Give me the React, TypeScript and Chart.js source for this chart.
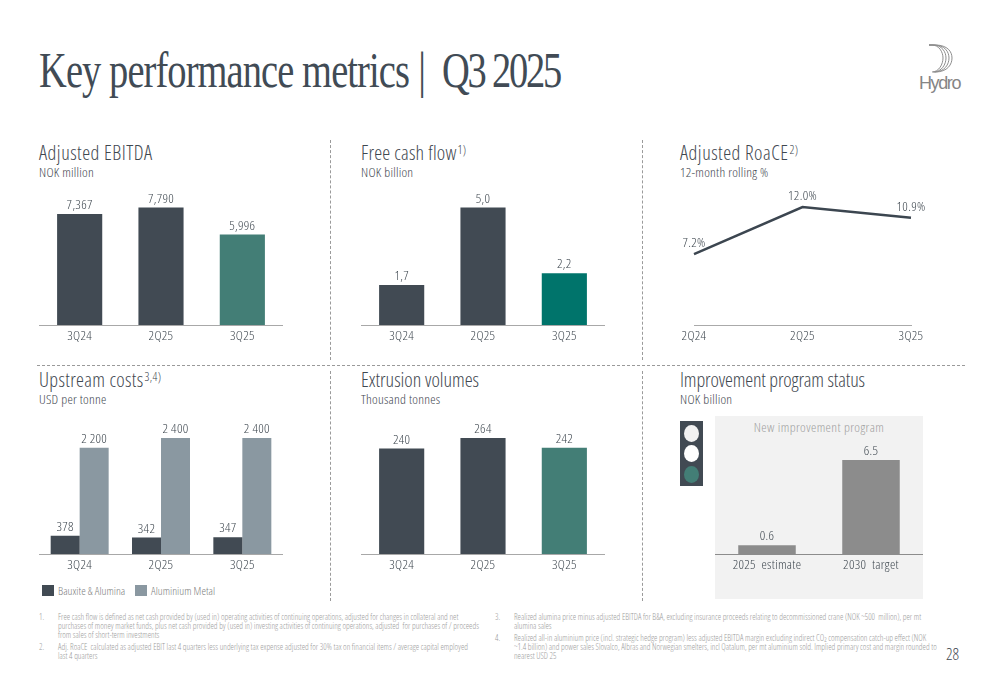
import React, { useEffect, useRef } from "react";
import { Chart, registerables } from "chart.js";
Chart.register(...registerables);

const DARK = "#414a53";
const TEAL = "#437e76";
const TEAL2 = "#00746b";
const SLATE = "#8a98a1";
const GREY = "#8c8c8c";
const TXT = "#3f4850";
const FONT = "'Open Sans',sans-serif";
const WEIGHT = "300 condensed";

const quarters = ["3Q24", "2Q25", "3Q25"];
const ebitda = [7367, 7790, 5996];
const fcf = [1.7, 5.0, 2.2];
const roaceQuarters = ["2Q24", "2Q25", "3Q25"];
const roace = [7.2, 12.0, 10.9];
const bauxite = [378, 342, 347];
const aluminium = [2200, 2400, 2400];
const extrusion = [240, 264, 242];
const programCats = ["2025  estimate", "2030  target"];
const program = [0.6, 6.5];

const footLeft = [
  [39, 58, 617, "1.", "Free cash flow is defined as net cash provided by (used in) operating activities of continuing operations, adjusted for changes in collateral and net"],
  [39, 58, 626, "", "purchases of money market funds, plus net cash provided by (used in) investing activities of continuing operations, adjusted  for purchases of / proceeds"],
  [39, 58, 635, "", "from sales of short-term investments"],
  [39, 58, 647, "2.", "Adj. RoaCE  calculated as adjusted EBIT last 4 quarters less underlying tax expense adjusted for 30% tax on financial items / average capital employed"],
  [39, 58, 656, "", "last 4 quarters"],
  [495, 514, 617, "3.", "Realized alumina price minus adjusted EBITDA for B&A, excluding insurance proceeds relating to decommissioned crane (NOK ~500  million), per mt"],
  [495, 514, 626, "", "alumina sales"],
  [495, 514, 638, "4.", "Realized all-in aluminium price (incl. strategic hedge program) less adjusted EBITDA margin excluding indirect CO\u2082 compensation catch-up effect (NOK"],
  [495, 514, 647, "", "~1.4 billion) and power sales Slovalco, Albras and Norwegian smelters, incl Qatalum, per mt aluminium sold. Implied primary cost and margin rounded to"],
  [495, 514, 656, "", "nearest USD 25"],
] as const;

const labelPlugin = (fmt: (v: number) => string, gap = 2) => ({
  id: "valueLabels",
  beforeDraw(chart: any) {
    chart.ctx.letterSpacing = "0.3px";
  },
  afterDatasetsDraw(chart: any) {
    const { ctx } = chart;
    ctx.save();
    ctx.fillStyle = TXT;
    ctx.font = `${WEIGHT} 13.5px ${FONT}`;
    ctx.textAlign = "center";
    ctx.textBaseline = "bottom";
    chart.data.datasets.forEach((ds: any, i: number) => {
      chart.getDatasetMeta(i).data.forEach((el: any, j: number) => {
        ctx.fillText(fmt(ds.data[j]), el.x, el.y - gap);
      });
    });
    ctx.restore();
  },
});

function Panel(p: { left: number; top: number; width: number; height: number; config: () => any }) {
  const ref = useRef<HTMLCanvasElement>(null);
  useEffect(() => {
    const chart = new Chart(ref.current!, p.config());
    return () => chart.destroy();
  }, []);
  return <canvas ref={ref} width={p.width} height={p.height} style={{ position: "absolute", left: p.left, top: p.top, width: p.width, height: p.height }} />;
}

const baseOptions = (yMax: number, padding: any = 0, axisColor = "#a8a8a8") => ({
  responsive: false,
  animation: false as const,
  devicePixelRatio: 1,
  layout: { padding },
  plugins: { legend: { display: false }, tooltip: { enabled: false } },
  scales: {
    y: { display: false, min: 0, max: yMax },
    x: {
      afterFit: (s: any) => { s.height = 25; },
      grid: { display: false, drawTicks: false },
      border: { display: true, color: axisColor, width: 1 },
      ticks: { color: TXT, font: { family: FONT, size: 13.5, weight: WEIGHT }, padding: 3, maxRotation: 0 },
    },
  },
});

const barCfg = (labels: string[], data: number[], colors: string[], yMax: number, fmt: (v: number) => string) => () => ({
  type: "bar",
  data: { labels, datasets: [{ data, backgroundColor: colors, barPercentage: 1, categoryPercentage: 0.555 }] },
  options: baseOptions(yMax),
  plugins: [labelPlugin(fmt)],
});

const thousands = (v: number) => v.toLocaleString("en-US");
const decComma = (v: number) => v.toFixed(1).replace(".", ",");
const spaced = (v: number) => (v >= 1000 ? thousands(v).replace(",", " ") : String(v));

function T(p: { x: number; y: number; s: number; c?: string; ls?: number; children: any; center?: boolean }) {
  return (
    <div style={{
      position: "absolute", left: p.x, top: p.y, transform: p.center ? "translate(-50%,-50%)" : "translateY(-50%)",
      fontSize: p.s, color: p.c ?? TXT, fontWeight: 300, fontStretch: "75%", letterSpacing: p.ls ?? 0,
      fontFamily: FONT, whiteSpace: "pre", lineHeight: 1,
    }}>{p.children}</div>
  );
}

const Head = ({ x, y, title, sup, sub, ls = 0.2 }: { x: number; y: number; title: string; sup?: string; sub: string; ls?: number }) => (
  <>
    <T x={x} y={y} s={20} ls={ls}>{title}{sup ? <sup style={{ fontSize: 12, lineHeight: 0, verticalAlign: 6, marginLeft: 1 }}>{sup}</sup> : null}</T>
    <T x={x} y={y + 19.5} s={13.5} ls={0.25}>{sub}</T>
  </>
);

const Box = (s: React.CSSProperties) => <div style={{ position: "absolute", ...s }} />;

export default function App() {
  const vDash = "1px dashed #9a9a9a";
  return (
    <div style={{ position: "fixed", inset: 0, width: 1000, height: 685, background: "#fff", overflow: "hidden" }}>
      <div style={{
        position: "absolute", left: 39, top: 70, transformOrigin: "left center", transform: "translateY(-50%) scaleX(0.77)",
        fontFamily: "'Liberation Serif',serif", fontSize: 50, lineHeight: 1, letterSpacing: -1.2, color: "#414b55", whiteSpace: "pre",
      }}>Key performance metrics<span style={{ marginLeft: 12, marginRight: 22 }}>|</span><span style={{ letterSpacing: -2.9 }}>Q3 2025</span></div>

      <svg style={{ position: "absolute", left: 915, top: 40 }} width={50} height={56} viewBox="0 0 50 56">
        {[0, 1, 2, 3].map((i) => {
          const r = 28 + i * 3;
          return <path key={i} d={`M14 5 H${17 + i} C${r - 4} 5 ${r} 12 ${r} 18 C${r} 24 ${r - 4} 32 ${17 + i} 32`} fill="none" stroke="#8e8e8e" strokeWidth={1} />;
        })}
        <text x={4} y={49} fontFamily="'Liberation Sans',sans-serif" fontSize={18} fill="#858585" letterSpacing={-1.4}>Hydro</text>
      </svg>

      <Box left={330} top={140} height={220} borderLeft={vDash} />
      <Box left={642} top={140} height={220} borderLeft={vDash} />
      <Box left={330} top={371} height={230} borderLeft={vDash} />
      <Box left={642} top={371} height={230} borderLeft={vDash} />
      <Box left={37} top={365} width={928} borderTop={vDash} />

      <Head x={39} y={153} title="Adjusted EBITDA" sub="NOK million" ls={0.5} />
      <Head x={361} y={153} title="Free cash flow" sup="1)" sub="NOK billion" />
      <Head x={680} y={153} title="Adjusted RoaCE" sup="2)" sub="12-month rolling %" ls={0.5} />
      <Head x={39} y={380} title="Upstream costs" sup="3,4)" sub="USD per tonne" ls={0.35} />
      <Head x={361} y={380} title="Extrusion volumes" sub="Thousand tonnes" ls={0} />
      <Head x={680} y={380} title="Improvement program status" sub="NOK billion" ls={-0.15} />

      <Panel left={39} top={180} width={244} height={170} config={barCfg(quarters, ebitda, [DARK, DARK, TEAL], 145 / 0.01508, thousands)} />
      <Panel left={361} top={180} width={244} height={170} config={barCfg(quarters, fcf, [DARK, DARK, TEAL2], 145 / 23.5, decComma)} />
      <Panel left={670} top={180} width={270} height={170} config={() => ({
        type: "line",
        data: { labels: roaceQuarters, datasets: [{ data: roace, borderColor: "#3c4650", borderWidth: 2.5, pointRadius: 0, tension: 0 }] },
        options: (() => {
          const o: any = baseOptions(145 / 9.83, { left: 24, right: 29 }, "#aaaaaa");
          o.scales.x.offset = false;
          return o;
        })(),
        plugins: [labelPlugin((v) => v.toFixed(1) + "%", 4)],
      })} />

      <Panel left={39} top={409} width={244} height={170} config={() => ({
        type: "bar",
        data: {
          labels: quarters,
          datasets: [
            { label: "Bauxite & Alumina", data: bauxite, backgroundColor: DARK, barPercentage: 1, categoryPercentage: 0.713 },
            { label: "Aluminium Metal", data: aluminium, backgroundColor: SLATE, barPercentage: 1, categoryPercentage: 0.713 },
          ],
        },
        options: baseOptions(145 / 0.0483),
        plugins: [labelPlugin(spaced)],
      })} />
      <Box left={42} top={585} width={12} height={11} background={DARK} />
      <T x={58} y={590.5} s={11.5} c="#7f7f7f">Bauxite & Alumina</T>
      <Box left={135} top={585} width={12} height={11} background={SLATE} />
      <T x={151} y={590.5} s={11.5} c="#7f7f7f">Aluminium Metal</T>

      <Panel left={361} top={409} width={244} height={170} config={barCfg(quarters, extrusion, [DARK, DARK, TEAL], 145 / 0.4394, String)} />

      <Box left={715} top={416} width={208} height={183} background="#f2f2f2" />
      <T x={819} y={428} s={13.5} ls={0.4} c="#a0a0a0" center>New improvement program</T>
      <Panel left={715} top={409} width={208} height={170} config={() => ({
        type: "bar",
        data: { labels: programCats, datasets: [{ data: program, backgroundColor: GREY, barPercentage: 1, categoryPercentage: 0.553 }] },
        options: baseOptions(145 / 14.46, 0, "#8c8c8c"),
        plugins: [labelPlugin((v) => v.toFixed(1))],
      })} />

      <Box left={680} top={421} width={22.5} height={65} background={DARK} />
      {["#f2f2f2", "#ffffff", TEAL].map((c, i) => (
        <Box key={i} left={683.5} top={424.5 + i * 20.6} width={15} height={17} borderRadius="50%" background={c} />
      ))}

      {footLeft.map(([nx, tx, y, n, t], i) => (
        <React.Fragment key={i}>
          {n ? <T x={nx} y={y} s={8.5} c="#9c9c9c">{n}</T> : null}
          <T x={tx} y={y} s={8.5} c="#9c9c9c">{t}</T>
        </React.Fragment>
      ))}
      <T x={946} y={654} s={16} c={TXT}>28</T>
    </div>
  );
}
